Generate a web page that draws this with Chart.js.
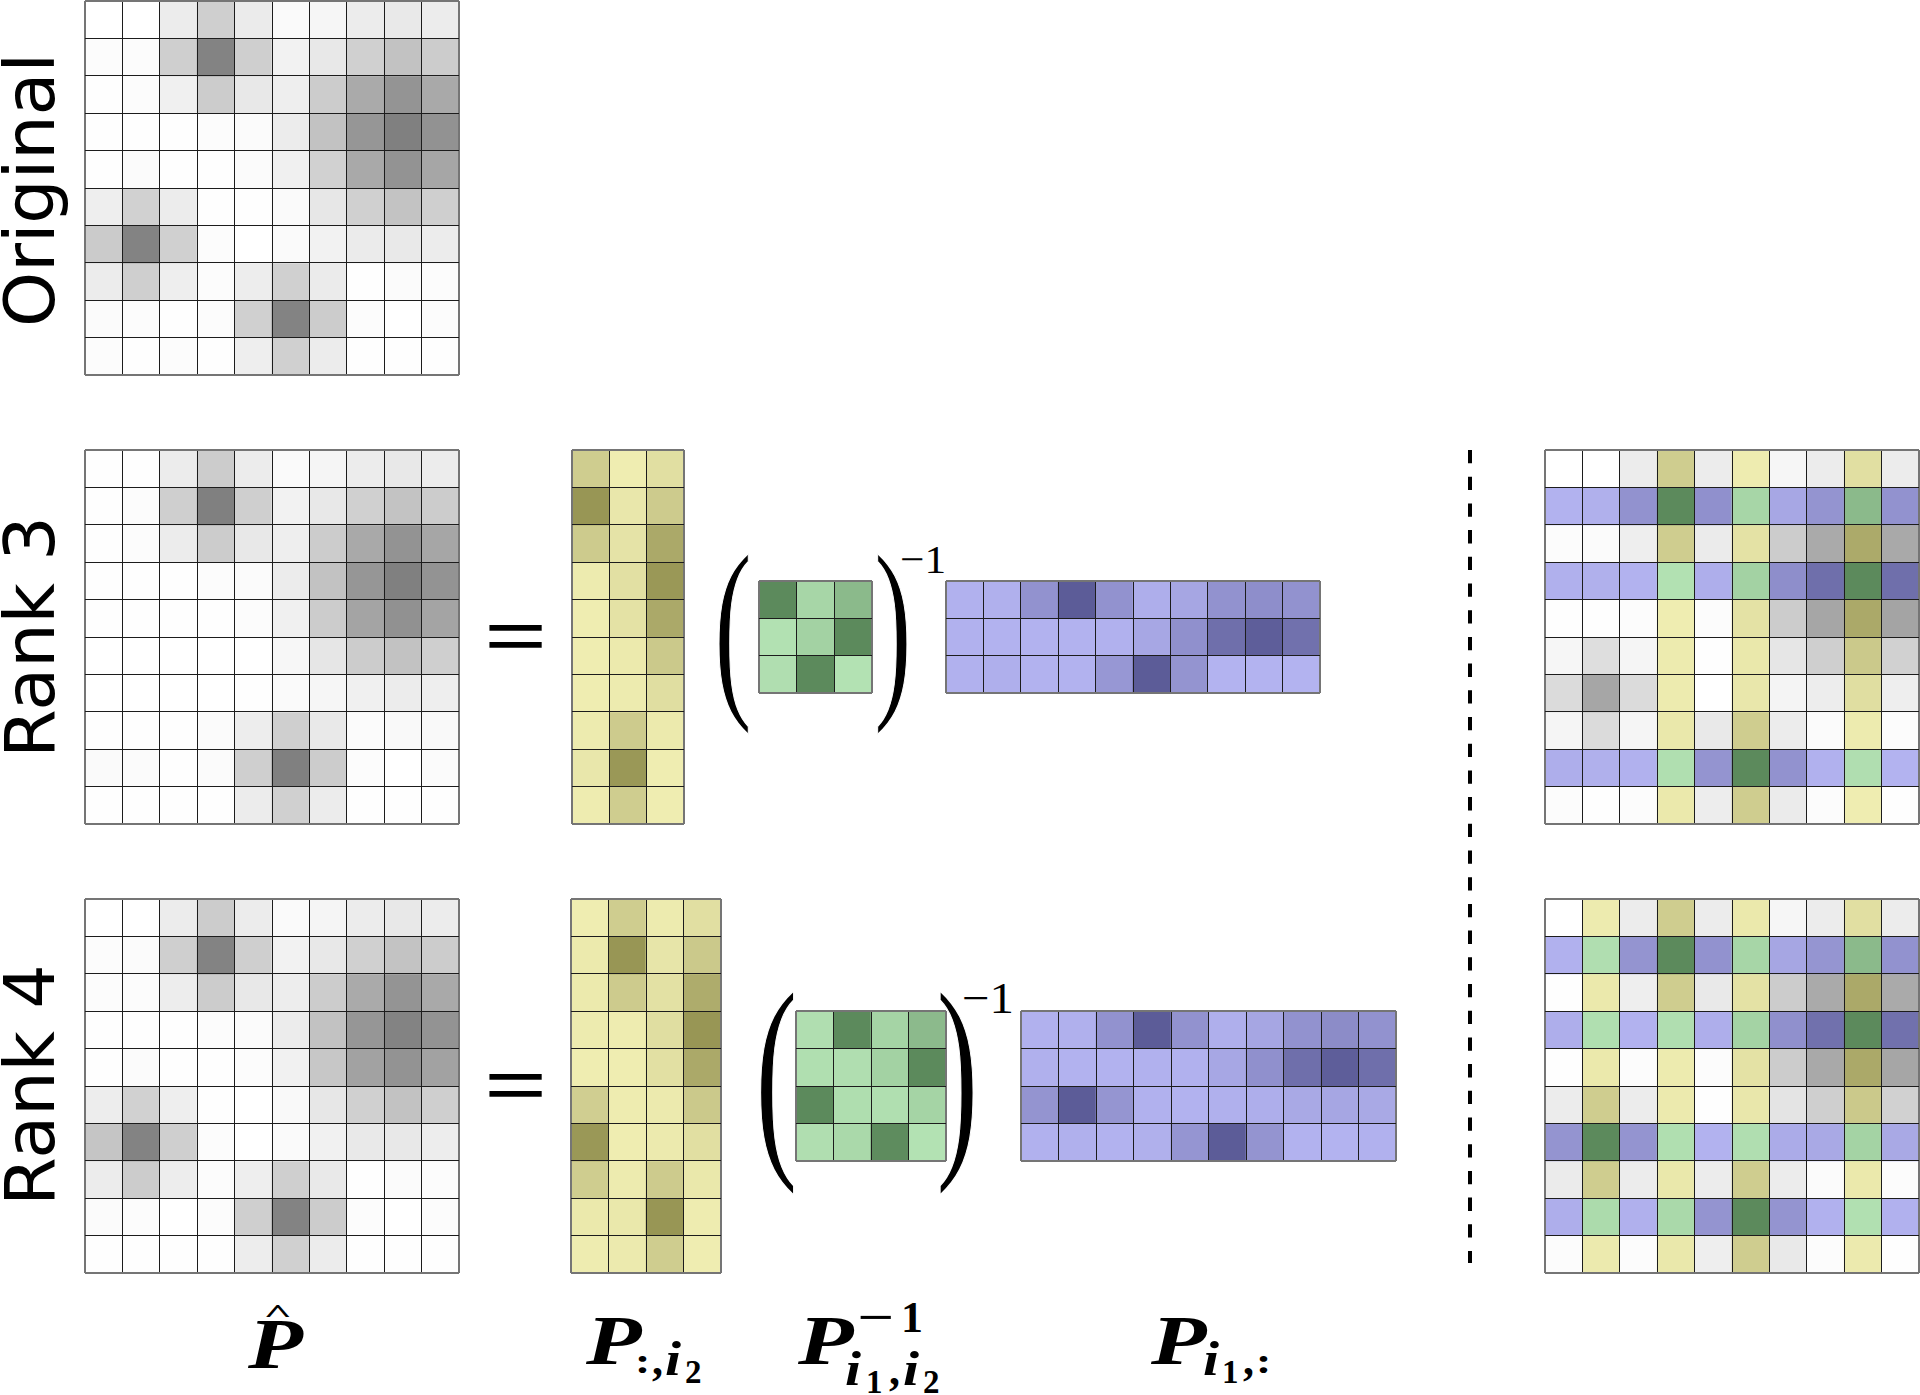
<!DOCTYPE html>
<html>
<head>
<meta charset="utf-8">
<title>Matrix approximation</title>
<script src="https://cdn.jsdelivr.net/npm/chart.js@4"></script>
<style>
  html, body { margin: 0; background: #fff; }
  #page { position: relative; width: 1920px; height: 1395px; overflow: hidden; }
  #page canvas { position: absolute; }
  #math { position: absolute; left: 0; top: 0; }
  .side { font-family: "DejaVu Sans"; font-size: 70px; text-anchor: middle; }
  .cm { font-family: "Liberation Serif"; }
  .bi { font-family: "Liberation Serif"; font-weight: bold; font-style: italic; }
  .bo { font-family: "Liberation Serif"; font-weight: bold; }
  .eq { font-family: "Liberation Serif"; font-size: 84px; stroke: #000; stroke-width: 1.5; }
  .paren { font-family: "Liberation Serif"; stroke: #fff; stroke-width: 1.6; }
</style>
</head>
<body>
<div id="page">
  <svg id="math" width="1920" height="1395">
    <text class="side" transform="translate(53.5 190) rotate(-90)">Original</text>
    <text class="side" transform="translate(53.5 637) rotate(-90)">Rank 3</text>
    <text class="side" transform="translate(53.5 1085) rotate(-90)">Rank 4</text>

    <text class="eq" x="485" y="665" textLength="61" lengthAdjust="spacingAndGlyphs">=</text>
    <text class="eq" x="485" y="1113.5" textLength="61" lengthAdjust="spacingAndGlyphs">=</text>

    <text class="paren" font-size="200" transform="translate(714 692) scale(.57 1)">(</text>
    <text class="paren" font-size="200" transform="translate(874 692) scale(.57 1)">)</text>
    <text class="cm" x="900" y="573" font-size="41" textLength="46" lengthAdjust="spacingAndGlyphs">−1</text>
    <text class="paren" font-size="225" transform="translate(755 1147) scale(.57 1)">(</text>
    <text class="paren" font-size="225" transform="translate(936 1147) scale(.57 1)">)</text>
    <text class="cm" x="962" y="1013" font-size="45" textLength="52" lengthAdjust="spacingAndGlyphs">−1</text>

    <!-- P hat -->
    <text class="bi" font-size="72" transform="translate(248 1368) scale(1.25 1)">P</text>
    <text class="bi" font-size="50" transform="translate(263 1321.5) scale(1 .5)">^</text>

    <!-- P :,i2 -->
    <text class="bi" font-size="70" transform="translate(586 1364) scale(1.3 1)">P</text>
    <text class="bo" font-size="46" transform="translate(635 1373) scale(1 .8)">:</text>
    <text class="bo" x="652" y="1375" font-size="44">,</text>
    <text class="bi" font-size="48" transform="translate(665 1375) scale(1.2 1)">i</text>
    <text class="bo" x="685" y="1383" font-size="33">2</text>

    <!-- P^-1 i1,i2 -->
    <text class="bi" font-size="70" transform="translate(798 1364) scale(1.3 1)">P</text>
    <text class="cm" x="857" y="1332" font-size="44" textLength="37" lengthAdjust="spacingAndGlyphs" font-weight="bold">−</text>
    <text class="cm" x="901" y="1332" font-size="44" font-weight="bold">1</text>
    <text class="bi" font-size="48" transform="translate(845 1385) scale(1.2 1)">i</text>
    <text class="bo" x="866" y="1393" font-size="33">1</text>
    <text class="bo" x="889" y="1385" font-size="44">,</text>
    <text class="bi" font-size="48" transform="translate(903 1385) scale(1.2 1)">i</text>
    <text class="bo" x="923" y="1393" font-size="33">2</text>

    <!-- P i1,: -->
    <text class="bi" font-size="70" transform="translate(1151 1364) scale(1.3 1)">P</text>
    <text class="bi" font-size="48" transform="translate(1203 1375) scale(1.2 1)">i</text>
    <text class="bo" x="1222" y="1383" font-size="33">1</text>
    <text class="bo" x="1243" y="1375" font-size="44">,</text>
    <text class="bo" font-size="46" transform="translate(1256 1373) scale(1 .8)">:</text>
  </svg>
</div>
<script>
// cell strength per matrix, 0 = lightest, 100 = darkest
const originalGrid = [
  [0, 0, 15, 38, 16, 4, 7, 15, 17, 15],
  [2, 2, 38, 98, 38, 10, 18, 37, 48, 40],
  [1, 2, 12, 40, 18, 13, 40, 67, 84, 68],
  [1, 1, 1, 2, 3, 15, 48, 83, 100, 86],
  [1, 3, 1, 1, 3, 12, 36, 68, 85, 70],
  [13, 36, 15, 1, 1, 4, 19, 37, 47, 38],
  [41, 98, 37, 2, 0, 4, 10, 16, 17, 15],
  [15, 38, 13, 2, 14, 37, 16, 1, 3, 2],
  [3, 2, 1, 2, 37, 98, 40, 2, 0, 2],
  [2, 1, 2, 1, 13, 37, 15, 1, 1, 1],
];
const rank3Grid = [
  [1, 1, 15, 40, 15, 4, 8, 15, 18, 15],
  [1, 2, 38, 100, 38, 10, 18, 37, 47, 40],
  [1, 2, 15, 40, 18, 13, 40, 68, 85, 70],
  [1, 1, 1, 2, 3, 15, 48, 83, 100, 85],
  [1, 1, 1, 1, 2, 12, 40, 72, 87, 72],
  [0, 0, 0, 0, 0, 6, 20, 40, 48, 38],
  [0, 0, 0, 0, 1, 4, 7, 12, 15, 13],
  [1, 1, 1, 3, 14, 38, 17, 3, 5, 5],
  [4, 3, 1, 3, 38, 100, 40, 2, 0, 3],
  [1, 1, 1, 1, 15, 37, 15, 1, 1, 1],
];
const rank4Grid = [
  [0, 0, 15, 40, 15, 4, 8, 15, 18, 15],
  [2, 3, 38, 98, 38, 10, 18, 37, 47, 40],
  [2, 2, 14, 40, 18, 14, 40, 67, 84, 68],
  [1, 1, 1, 2, 3, 15, 48, 83, 98, 85],
  [1, 3, 1, 1, 2, 11, 44, 73, 85, 73],
  [14, 36, 13, 1, 0, 5, 19, 37, 48, 38],
  [46, 98, 38, 2, 0, 4, 11, 17, 18, 14],
  [15, 40, 14, 2, 13, 38, 17, 1, 3, 2],
  [3, 2, 0, 2, 38, 98, 40, 2, 0, 2],
  [1, 1, 1, 1, 14, 37, 15, 1, 1, 1],
];
const rank3Cols = [
  [38, 1, 17],
  [100, 8, 40],
  [40, 12, 78],
  [3, 16, 98],
  [1, 14, 78],
  [1, 5, 42],
  [1, 3, 18],
  [3, 40, 5],
  [8, 98, 1],
  [2, 38, 1],
];
const rank3Core = [
  [100, 14, 46],
  [1, 18, 100],
  [4, 100, 0],
];
const rank3Rows = [
  [2, 3, 38, 100, 38, 6, 15, 38, 42, 38],
  [2, 1, 1, 1, 2, 14, 40, 78, 98, 76],
  [2, 5, 1, 1, 32, 100, 36, 0, 0, 0],
];
const rank4Cols = [
  [1, 38, 3, 17],
  [5, 100, 10, 42],
  [5, 40, 15, 75],
  [3, 2, 18, 100],
  [1, 1, 16, 78],
  [36, 2, 4, 42],
  [98, 1, 4, 17],
  [38, 3, 40, 7],
  [6, 7, 100, 2],
  [2, 4, 38, 1],
];
const rank4Core = [
  [4, 100, 16, 45],
  [3, 4, 18, 100],
  [100, 5, 3, 16],
  [4, 10, 98, 0],
];
const rank4Rows = [
  [2, 3, 38, 100, 38, 5, 15, 38, 45, 38],
  [3, 1, 1, 2, 2, 14, 40, 78, 98, 78],
  [36, 100, 35, 2, 1, 3, 6, 12, 15, 12],
  [2, 3, 1, 4, 34, 100, 36, 1, 0, 2],
];
const rank3Picked = [
  [0, 0, 15, 38, 15, 2, 7, 15, 17, 15],
  [1, 4, 38, 100, 40, 14, 14, 36, 46, 38],
  [2, 3, 13, 38, 16, 14, 40, 67, 77, 68],
  [3, 4, 1, 1, 6, 18, 42, 78, 100, 78],
  [1, 1, 2, 1, 2, 14, 40, 70, 78, 72],
  [7, 26, 8, 3, 1, 7, 20, 38, 42, 36],
  [28, 70, 28, 3, 0, 8, 9, 14, 18, 13],
  [8, 28, 8, 7, 17, 38, 15, 3, 3, 2],
  [6, 4, 2, 3, 36, 100, 38, 2, 4, 0],
  [2, 1, 2, 6, 14, 38, 16, 2, 1, 1],
];
const rank4Picked = [
  [0, 3, 15, 38, 15, 6, 7, 15, 17, 15],
  [2, 4, 36, 100, 38, 14, 15, 35, 46, 38],
  [1, 6, 13, 38, 17, 14, 40, 67, 78, 67],
  [6, 3, 1, 4, 6, 17, 40, 76, 100, 76],
  [1, 6, 2, 3, 2, 14, 40, 68, 78, 70],
  [15, 38, 15, 4, 1, 8, 21, 38, 42, 36],
  [36, 100, 36, 3, 1, 4, 9, 12, 17, 12],
  [16, 38, 15, 7, 15, 38, 15, 3, 6, 2],
  [6, 8, 3, 10, 36, 100, 36, 2, 2, 2],
  [2, 4, 2, 7, 13, 38, 17, 2, 4, 1],
];
const rank3PickedRows = [1, 3, 8];
const rank3PickedCols = [3, 5, 8];
const rank4PickedRows = [1, 3, 6, 8];
const rank4PickedCols = [1, 3, 5, 8];
const dashX = [0, 0];
const dashY = [0, 1];

const palette = {
  gray: [[255, 255, 255], [128, 128, 128]],
  yellow: [[240, 238, 178], [152, 150, 85]],
  green: [[179, 226, 179], [92, 138, 92]],
  purple: [[179, 179, 240], [92, 92, 152]],
};

const page = document.getElementById("page");

function addCanvas(left, top, width, height) {
  const canvas = document.createElement("canvas");
  canvas.width = width;
  canvas.height = height;
  canvas.style.left = left + "px";
  canvas.style.top = top + "px";
  page.appendChild(canvas);
  return canvas;
}

function shade(name, v) {
  const [a, b] = palette[name];
  const c = a.map((x, i) => Math.round(x + ((b[i] - x) * v) / 100));
  return `rgb(${c[0]},${c[1]},${c[2]})`;
}

// each matrix is a stacked bar chart: one dataset per row, every bar one unit tall
function drawMatrix(left, top, width, height, grid, hue) {
  const nCols = grid[0].length;
  const nRows = grid.length;
  const labels = grid[0].map((_, i) => i);
  const isOuter = (i, n) => i === undefined || i === 0 || i === n;

  new Chart(addCanvas(left - 1, top - 1, width + 2, height + 2), {
    type: "bar",
    data: {
      labels: labels,
      datasets: grid.map((row, r) => ({
        data: row.map(() => 1),
        backgroundColor: row.map((v, c) => shade(hue(r, c), v)),
        borderWidth: 0,
        barPercentage: 1,
        categoryPercentage: 1,
      })),
    },
    options: {
      responsive: false,
      animation: false,
      layout: { padding: 1 },
      plugins: { legend: { display: false }, tooltip: { enabled: false } },
      scales: {
        x: {
          stacked: true,
          offset: true,
          ticks: { display: false },
          border: { display: false },
          grid: {
            z: 1,
            offset: true,
            drawTicks: false,
            color: (ctx) => (isOuter(ctx.index, nCols) ? "#757575" : "#1c1c1c"),
            lineWidth: (ctx) => (isOuter(ctx.index, nCols) ? 2 : 1),
          },
        },
        y: {
          stacked: true,
          reverse: true,
          min: 0,
          max: nRows,
          ticks: { display: false, stepSize: 1 },
          border: { display: false },
          grid: {
            z: 1,
            drawTicks: false,
            color: (ctx) => (isOuter(ctx.index, nRows) ? "#757575" : "#1c1c1c"),
            lineWidth: (ctx) => (isOuter(ctx.index, nRows) ? 2 : 1),
          },
        },
      },
    },
  });
}

const plain = () => "gray";
const solid = (name) => () => name;
const picked = (rows, cols) => (r, c) => {
  const inRow = rows.includes(r);
  const inCol = cols.includes(c);
  if (inRow && inCol) return "green";
  if (inRow) return "purple";
  return inCol ? "yellow" : "gray";
};

drawMatrix(85, 1, 374, 374, originalGrid, plain);
drawMatrix(85, 450, 374, 374, rank3Grid, plain);
drawMatrix(85, 899, 374, 374, rank4Grid, plain);

drawMatrix(572, 450, 112, 374, rank3Cols, solid("yellow"));
drawMatrix(759, 581, 113, 112, rank3Core, solid("green"));
drawMatrix(946, 581, 374, 112, rank3Rows, solid("purple"));

drawMatrix(571, 899, 150, 374, rank4Cols, solid("yellow"));
drawMatrix(796, 1011, 150, 150, rank4Core, solid("green"));
drawMatrix(1021, 1011, 375, 150, rank4Rows, solid("purple"));

drawMatrix(1545, 450, 374, 374, rank3Picked, picked(rank3PickedRows, rank3PickedCols));
drawMatrix(1545, 899, 374, 374, rank4Picked, picked(rank4PickedRows, rank4PickedCols));

// dashed separator between the factor matrices and the picked entries
new Chart(addCanvas(1460, 450, 20, 813), {
  type: "scatter",
  data: {
    datasets: [{
      data: dashX.map((x, i) => ({ x: x, y: dashY[i] })),
      showLine: true,
      borderColor: "#000",
      borderWidth: 4,
      borderDash: [13.3, 13.4],
      pointRadius: 0,
    }],
  },
  options: {
    responsive: false,
    animation: false,
    plugins: { legend: { display: false }, tooltip: { enabled: false } },
    scales: {
      x: { display: false, min: -1, max: 1 },
      y: { display: false, min: 0, max: 1, reverse: true },
    },
  },
});
</script>
</body>
</html>
